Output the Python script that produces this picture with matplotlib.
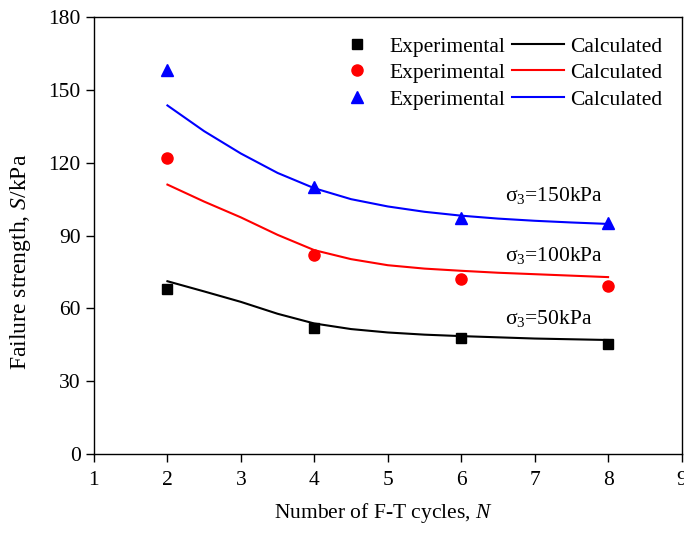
import matplotlib
matplotlib.use("Agg")
import matplotlib.pyplot as plt

plt.rcParams["font.family"] = ["Liberation Serif", "DejaVu Serif"]
plt.rcParams["mathtext.fontset"] = "custom"
plt.rcParams["mathtext.rm"] = "Liberation Serif"
plt.rcParams["mathtext.it"] = "Liberation Serif:italic"

# ── Experimental points ──────────────────────────────────────────────────────
N_EXP = [2, 4, 6, 8]
EXP_50 = [68.1, 52.0, 47.9, 45.2]
EXP_100 = [122.0, 82.0, 72.0, 69.2]
EXP_150 = [158.4, 110.1, 97.3, 95.3]

# ── Calculated curves ────────────────────────────────────────────────────────
N_CALC = [2, 2.5, 3, 3.5, 4, 4.5, 5, 5.5, 6, 6.5, 7, 7.5, 8]
CALC_50 = [71.2, 67.0, 62.7, 57.8, 53.8, 51.5, 50.1, 49.2, 48.6, 48.1, 47.6, 47.3, 47.0]
CALC_100 = [111.0, 104.0, 97.5, 90.3, 84.0, 80.3, 77.8, 76.4, 75.5, 74.7, 74.1, 73.5, 72.9]
CALC_150 = [143.6, 133.0, 123.8, 115.8, 109.5, 105.0, 102.0, 99.8, 98.2, 97.0, 96.1, 95.4, 94.8]

LABELS = ["σ$_3$=50kPa", "σ$_3$=100kPa", "σ$_3$=150kPa"]
LABEL_Y = [53.5, 79.6, 104.3]

FS = 15.5

fig = plt.figure(figsize=(6.84, 5.33), dpi=100)
ax = fig.add_axes([0.1374, 0.148, 0.859, 0.820])

series = [
    (EXP_50, CALC_50, "black", "s", 7),
    (EXP_100, CALC_100, "red", "o", 8),
    (EXP_150, CALC_150, "blue", "^", 8.5),
]

exp_handles, calc_handles = [], []
for exp, calc, col, mk, ms in series:
    h1, = ax.plot(N_EXP, exp, linestyle="none", marker=mk, color=col,
                  markersize=ms, label="Experimental")
    h2, = ax.plot(N_CALC, calc, color=col, linewidth=1.5, label="Calculated")
    exp_handles.append(h1)
    calc_handles.append(h2)

for txt, y in zip(LABELS, LABEL_Y):
    ax.text(6.6, y, txt, fontsize=FS, va="baseline", ha="left")

ax.legend(handles=exp_handles + calc_handles,
          labels=["Experimental"] * 3 + ["Calculated"] * 3,
          ncol=2, loc="upper right", frameon=False, fontsize=FS,
          handlelength=2.4, handletextpad=0.3, columnspacing=0.3,
          labelspacing=0.3, borderaxespad=0.5)

ax.set_xlim(1, 9)
ax.set_ylim(0, 180)
ax.set_xticks(range(1, 10))
ax.set_yticks(range(0, 181, 30))
ax.tick_params(direction="out", length=6, width=1, labelsize=FS,
               top=False, right=False)
ax.tick_params(axis="x", pad=6)
ax.tick_params(axis="y", pad=3.5)
for sp in ax.spines.values():
    sp.set_linewidth(1)

ax.set_xlabel("Number of F-T cycles, $N$", fontsize=FS)
ax.set_ylabel("Failure strength, $S$/kPa", fontsize=17)
ax.xaxis.set_label_coords(0.493, -0.108)
ax.yaxis.set_label_coords(-0.104, 0.44)

fig.savefig("out.png", dpi=100)
